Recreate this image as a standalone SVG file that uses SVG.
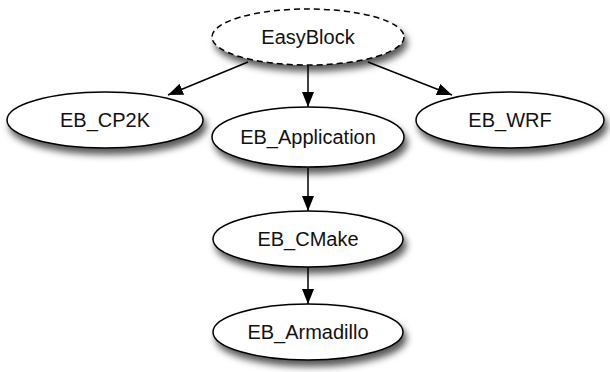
<svg xmlns="http://www.w3.org/2000/svg" width="610" height="372" viewBox="0 0 610 372">
<defs>
<filter id="sh" x="-20%" y="-30%" width="150%" height="190%">
<feDropShadow dx="3" dy="6" stdDeviation="3.5" flood-color="#000" flood-opacity="0.65"/>
</filter>
<marker id="ah" markerWidth="15" markerHeight="12" refX="15" refY="6" orient="auto" markerUnits="userSpaceOnUse">
<path d="M0,0 L15,6 L0,12 Z" fill="#000"/>
</marker>
<style>
.n ellipse{fill:#fff;stroke:#000;stroke-width:1.5;filter:url(#sh)}
.n text{font-family:"Liberation Sans",Arial,sans-serif;font-size:20px;text-anchor:middle;fill:#111}
.e line{stroke:#000;stroke-width:1.5;marker-end:url(#ah)}
</style>
</defs>
<rect width="610" height="372" fill="#fff"/>
<g class="e" id="edges">
<line x1="248" y1="62" x2="168" y2="95"/>
<line x1="368" y1="62" x2="452" y2="95"/>
<line x1="308" y1="66" x2="308" y2="107"/>
<line x1="308" y1="168" x2="308" y2="211"/>
<line x1="308" y1="267" x2="308" y2="304"/>
</g>
<g class="n" id="EasyBlock">
<ellipse cx="308" cy="37" rx="96" ry="28" style="stroke-dasharray:6,4"/>
<text x="308" y="44">EasyBlock</text>
</g>
<g class="n" id="EB_CP2K">
<ellipse cx="105" cy="120" rx="98" ry="28"/>
<text x="105" y="127">EB_CP2K</text>
</g>
<g class="n" id="EB_WRF">
<ellipse cx="510" cy="120" rx="94" ry="28"/>
<text x="510" y="127">EB_WRF</text>
</g>
<g class="n" id="EB_Application">
<ellipse cx="308" cy="137" rx="96" ry="30"/>
<text x="308" y="144">EB_Application</text>
</g>
<g class="n" id="EB_CMake">
<ellipse cx="308" cy="239" rx="95" ry="28"/>
<text x="308" y="246">EB_CMake</text>
</g>
<g class="n" id="EB_Armadillo">
<ellipse cx="308" cy="332" rx="95" ry="28"/>
<text x="308" y="339">EB_Armadillo</text>
</g>
</svg>
